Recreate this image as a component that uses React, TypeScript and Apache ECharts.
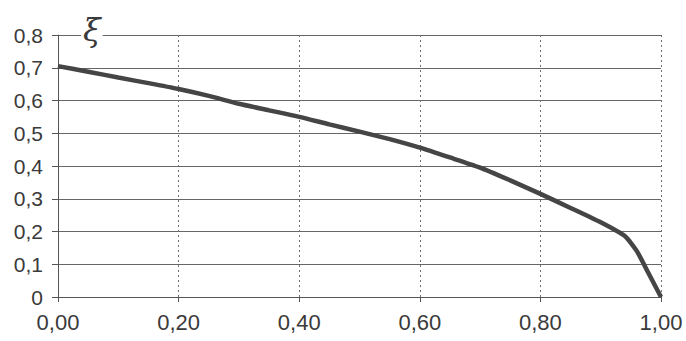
import React, { useEffect, useRef } from "react";
import * as echarts from "echarts";

const xValues = [0, 0.05, 0.1, 0.15, 0.2, 0.25, 0.3, 0.35, 0.4, 0.45, 0.5, 0.55, 0.6, 0.65, 0.7, 0.75, 0.8, 0.85, 0.9, 0.94, 0.96, 0.98, 1.0];
const xiValues = [0.705, 0.688, 0.67, 0.653, 0.635, 0.614, 0.59, 0.57, 0.55, 0.527, 0.505, 0.482, 0.456, 0.426, 0.395, 0.356, 0.315, 0.272, 0.228, 0.186, 0.14, 0.07, 0.0];
const axisTitle = "ξ";

export default function App() {
  const ref = useRef<HTMLDivElement>(null);
  useEffect(() => {
    if (!ref.current) return;
    const chart = echarts.init(ref.current, null, { renderer: "svg" });
    const data = xValues.map((x, i) => [x, xiValues[i]]);
    chart.setOption({
      animation: false,
      backgroundColor: "#ffffff",
      grid: { left: 58, right: 25, top: 35, bottom: 44 },
      xAxis: {
        type: "value",
        min: 0,
        max: 1,
        interval: 0.2,
        axisLine: { show: true, onZero: false, lineStyle: { color: "#555", width: 1 } },
        axisTick: { show: true, length: 5, lineStyle: { color: "#555" } },
        axisLabel: {
          margin: 14,
          fontSize: 22,
          color: "#3a3a3a",
          fontFamily: "Liberation Sans, Arial, sans-serif",
          formatter: (v: number) => v.toFixed(2).replace(".", ","),
        },
        splitLine: { show: true, lineStyle: { color: "#707070", type: [2, 3], width: 1 } },
      },
      yAxis: {
        type: "value",
        min: 0,
        max: 0.8,
        interval: 0.1,
        axisLine: { show: true, lineStyle: { color: "#555", width: 1 } },
        axisTick: { show: true, length: 6, lineStyle: { color: "#555" } },
        axisLabel: {
          margin: 15,
          fontSize: 21,
          color: "#3a3a3a",
          fontFamily: "Liberation Sans, Arial, sans-serif",
          formatter: (v: number) => (v === 0 ? "0" : v.toFixed(1).replace(".", ",")),
        },
        splitLine: { show: true, lineStyle: { color: "#666666", width: 1 } },
      },
      graphic: [
        {
          type: "text",
          left: 81,
          top: 12,
          z: 100,
          style: {
            text: axisTitle,
            font: "italic 32px 'DejaVu Serif', serif",
            fill: "#3a3a3a",
            backgroundColor: "#ffffff",
            padding: [2, 2, 0, 2],
          },
        },
      ],
      series: [
        {
          type: "line",
          data,
          showSymbol: false,
          smooth: 0.2,
          lineStyle: { color: "#454545", width: 4.5 },
        },
      ],
    });
    return () => chart.dispose();
  }, []);
  return (
    <div
      ref={ref}
      style={{ position: "fixed", left: 0, top: 0, width: 686, height: 341 }}
    />
  );
}
